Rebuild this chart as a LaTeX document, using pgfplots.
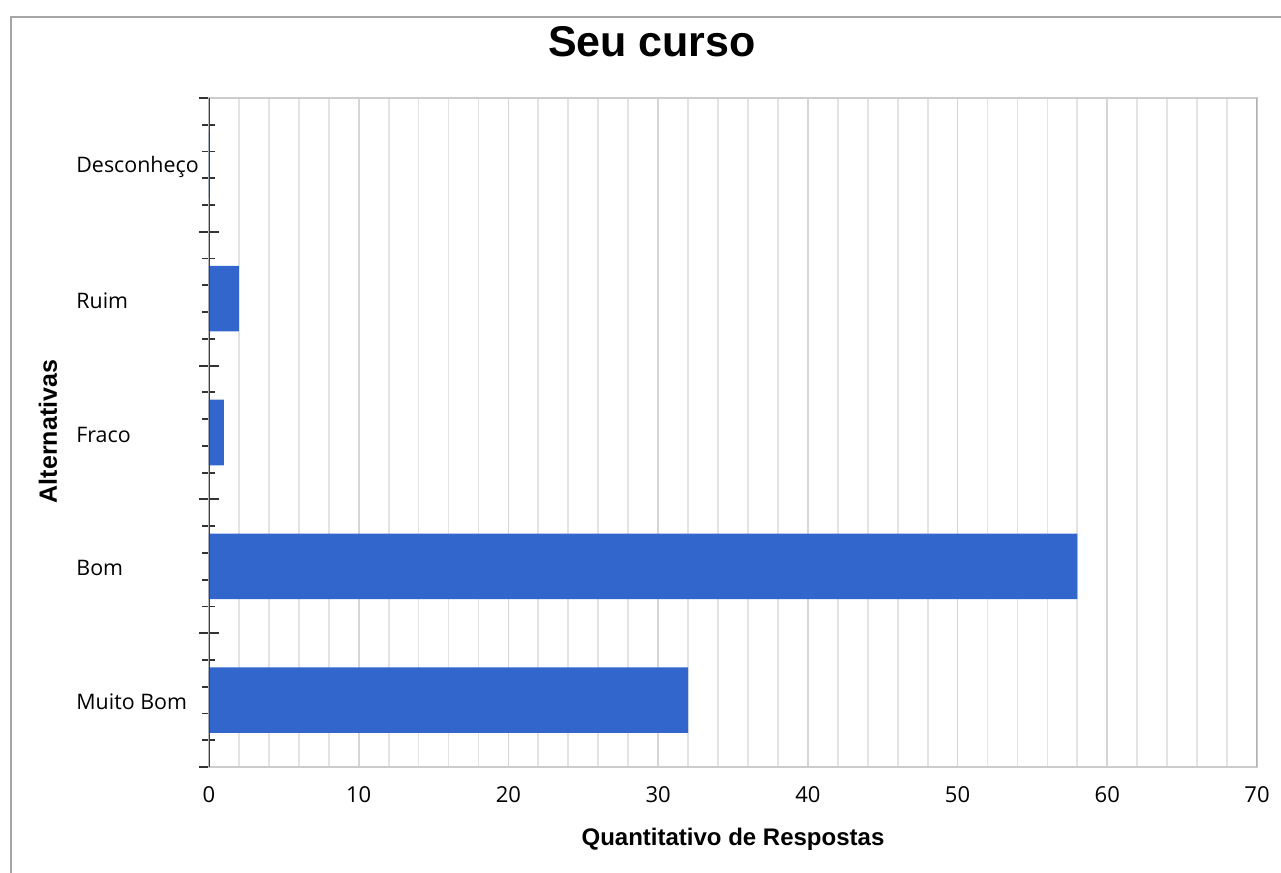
\documentclass[border=0pt]{standalone}
\usepackage{fontspec}
\setmainfont{Open Sans}
\newfontfamily\arialf{Liberation Sans}
\usepackage{pgfplots}
\pgfplotsset{compat=1.18}
\definecolor{barblue}{RGB}{51,102,204}
\begin{document}
\begin{tikzpicture}
\useasboundingbox (0,0) rectangle (640.5pt,436.5pt);
\draw[gray!70, line width=1pt] (5.5pt,0) -- (5.5pt,428pt) -- (640.5pt,428pt);
\begin{axis}[
  at={(104.5pt,53pt)}, anchor=south west,
  scale only axis, width=524pt, height=334.5pt,
  xbar, bar width=0.49,
  xmin=0, xmax=70, ymin=-0.5, ymax=4.5,
  xtick={0,10,...,70}, minor x tick num=4,
  xmajorgrids, xminorgrids,
  major grid style={gray!32, line width=0.9pt},
  minor grid style={gray!22, line width=0.9pt},
  x tick style={draw=none},
  xticklabel style={font=\fontsize{11}{12}\selectfont, yshift=-6pt, /pgf/number format/assume math mode=true},
  ytick={-0.5,0.5,1.5,2.5,3.5,4.5}, yticklabels={},
  minor ytick={-0.3,-0.1,0.1,0.3,0.7,0.9,1.1,1.3,1.7,1.9,2.1,2.3,2.7,2.9,3.1,3.3,3.7,3.9,4.1,4.3},
  ytick pos=left,
  ytick align=center,
  y tick style={black!80, line width=0.9pt},
  major tick length=10pt, minor tick length=6.5pt,
  extra y ticks={0,1,2,3,4},
  extra y tick labels={Muito Bom,Bom,Fraco,Ruim,Desconheço},
  extra y tick style={major tick length=0pt, yticklabel style={anchor=west, inner sep=0pt, xshift=-66.5pt, yshift=-1pt, font=\fontsize{10.7}{12}\selectfont}},
  axis line style={gray!40, line width=0.9pt},
  title={Seu curso},
  title style={at={(rel axis cs:0.4227,1.0837)}, anchor=center, yshift=-6pt, font=\arialf\bfseries\fontsize{21.5}{24}\selectfont},
  xlabel={Quantitativo de Respostas},
  xlabel style={at={(rel axis cs:0.5,-0.1076)}, anchor=center, font=\arialf\bfseries\fontsize{12}{14}\selectfont},
  ylabel={Alternativas},
  ylabel style={at={(rel axis cs:-0.1536,0.5015)}, anchor=center, rotate=0, font=\arialf\bfseries\fontsize{12.5}{14}\selectfont},
]
\addplot[fill=barblue, draw=none] coordinates {(32,0) (58,1) (1,2) (2,3) (0,4)};
\draw[gray!60, line width=0.9pt] (rel axis cs:1,0) -- (rel axis cs:1,1);
\draw[black!75, line width=1pt] (rel axis cs:0,0) -- (rel axis cs:0,1);
\end{axis}
\end{tikzpicture}
\end{document}
